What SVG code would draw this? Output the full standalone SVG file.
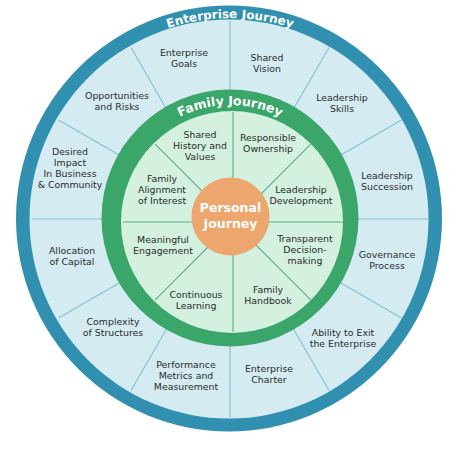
<svg xmlns="http://www.w3.org/2000/svg" width="467" height="452" viewBox="0 0 467 452">
<defs>
<style>
.lbl{font-family:"DejaVu Sans","Open Sans",sans-serif;font-size:9.4px;fill:#2b2b2b;text-anchor:middle}
.ring{font-family:"DejaVu Sans","Open Sans",sans-serif;font-weight:bold;fill:#ffffff;text-anchor:middle}
.ctr{font-family:"DejaVu Sans","Open Sans",sans-serif;font-weight:bold;font-size:12.5px;fill:#ffffff;text-anchor:middle}
.oline{stroke:#86c0d3;stroke-width:1.1;fill:none}
.iline{stroke:#5ea98a;stroke-width:1.1;fill:none}
</style>
<path id="entArc" d="M 29,219 A 201 201 0 0 1 431,219"/>
<path id="famArc" d="M 117,218 A 113 113 0 0 1 343,218"/>
</defs>
<rect width="467" height="452" fill="#ffffff"/>
<g id="enterprise-ring">
<circle cx="229" cy="218.5" r="213" fill="#3190b0"/>
<circle cx="229" cy="219" r="199.5" fill="#d5ebf2"/>
</g>
<g id="connectors">
<g class="oline">
<line x1="32" y1="219" x2="428" y2="219"/>
<line x1="58.5" y1="120" x2="401.5" y2="318"/>
<line x1="131" y1="47.5" x2="329" y2="390.5"/>
<line x1="230" y1="21" x2="230" y2="417"/>
<line x1="329" y1="47.5" x2="131" y2="390.5"/>
<line x1="401.5" y1="120" x2="58.5" y2="318"/>
</g>
</g>
<g id="family-ring">
<circle cx="230" cy="218" r="128.5" fill="#3aa66a"/>
<circle cx="232" cy="222" r="111" fill="#d3f1de"/>
</g>
<g id="inner-dividers" class="iline">
<line x1="123" y1="222" x2="343" y2="222"/>
<line x1="233" y1="112" x2="233" y2="332"/>
<line x1="155.2" y1="144.2" x2="310.8" y2="299.8"/>
<line x1="310.8" y1="144.2" x2="155.2" y2="299.8"/>
</g>
<g id="ring-titles">
<text class="ring" font-size="12"><textPath href="#entArc" startOffset="50%">Enterprise Journey</textPath></text>
<text class="ring" font-size="12.5"><textPath href="#famArc" startOffset="50%">Family Journey</textPath></text>
</g>
<g id="personal-journey">
<circle cx="230.5" cy="216.5" r="39" fill="#eda66d"/>
<text class="ctr" x="230.5"><tspan x="230.5" y="211.5">Personal</tspan><tspan x="230.5" y="227.5">Journey</tspan></text>
</g>
<g id="enterprise-goals"><text class="lbl"><tspan x="184" y="56">Enterprise</tspan><tspan x="184" y="67">Goals</tspan></text></g>
<g id="shared-vision"><text class="lbl"><tspan x="267" y="61">Shared</tspan><tspan x="267" y="72">Vision</tspan></text></g>
<g id="leadership-skills"><text class="lbl"><tspan x="342" y="100.5">Leadership</tspan><tspan x="342" y="111.5">Skills</tspan></text></g>
<g id="leadership-succession"><text class="lbl"><tspan x="387" y="178.5">Leadership</tspan><tspan x="387" y="189.5">Succession</tspan></text></g>
<g id="governance-process"><text class="lbl"><tspan x="387" y="257.5">Governance</tspan><tspan x="387" y="268.5">Process</tspan></text></g>
<g id="ability-to-exit"><text class="lbl"><tspan x="343" y="336">Ability to Exit</tspan><tspan x="343" y="347">the Enterprise</tspan></text></g>
<g id="enterprise-charter"><text class="lbl"><tspan x="269" y="371.5">Enterprise</tspan><tspan x="269" y="382.5">Charter</tspan></text></g>
<g id="performance-metrics"><text class="lbl"><tspan x="186" y="368">Performance</tspan><tspan x="186" y="379">Metrics and</tspan><tspan x="186" y="390">Measurement</tspan></text></g>
<g id="complexity"><text class="lbl"><tspan x="113" y="325">Complexity</tspan><tspan x="113" y="336">of Structures</tspan></text></g>
<g id="allocation"><text class="lbl"><tspan x="72" y="254">Allocation</tspan><tspan x="72" y="265">of Capital</tspan></text></g>
<g id="desired-impact"><text class="lbl"><tspan x="70" y="154.5">Desired</tspan><tspan x="70" y="165.5">Impact</tspan><tspan x="70" y="176.5">In Business</tspan><tspan x="70" y="187.5">&amp; Community</tspan></text></g>
<g id="opportunities"><text class="lbl"><tspan x="117" y="98.5">Opportunities</tspan><tspan x="117" y="109.5">and Risks</tspan></text></g>
<g id="shared-history"><text class="lbl"><tspan x="200" y="137.5">Shared</tspan><tspan x="200" y="148.5">History and</tspan><tspan x="200" y="159.5">Values</tspan></text></g>
<g id="responsible-ownership"><text class="lbl"><tspan x="268" y="140.5">Responsible</tspan><tspan x="268" y="151.5">Ownership</tspan></text></g>
<g id="leadership-development"><text class="lbl"><tspan x="301" y="192.5">Leadership</tspan><tspan x="301" y="203.5">Development</tspan></text></g>
<g id="transparent-decision"><text class="lbl"><tspan x="305" y="242">Transparent</tspan><tspan x="305" y="253">Decision-</tspan><tspan x="305" y="264">making</tspan></text></g>
<g id="family-handbook"><text class="lbl"><tspan x="268" y="292.5">Family</tspan><tspan x="268" y="303.5">Handbook</tspan></text></g>
<g id="continuous-learning"><text class="lbl"><tspan x="196" y="298">Continuous</tspan><tspan x="196" y="309">Learning</tspan></text></g>
<g id="meaningful-engagement"><text class="lbl"><tspan x="163" y="243">Meaningful</tspan><tspan x="163" y="254">Engagement</tspan></text></g>
<g id="family-alignment"><text class="lbl"><tspan x="162" y="182">Family</tspan><tspan x="162" y="193">Alignment</tspan><tspan x="162" y="204">of Interest</tspan></text></g>
</svg>
